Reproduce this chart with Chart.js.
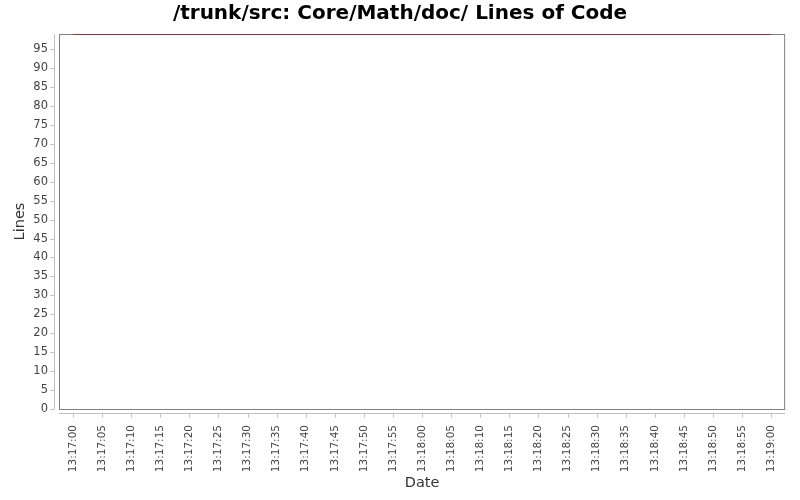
<!DOCTYPE html>
<html>
<head>
<meta charset="utf-8">
<script src="https://cdn.jsdelivr.net/npm/chart.js@4/dist/chart.umd.min.js"></script>
<style>
  html, body { margin: 0; padding: 0; background: #fff; }
  #wrap { width: 800px; height: 500px; }
</style>
</head>
<body>
<div id="wrap"><canvas id="locChart" width="800" height="500"></canvas></div>
<script>
// 数据: 采样时间 + 代码行数
const dates = ["13:17:00", "13:19:00"];
const lines = [99, 99];
const tickLabels = [
  "13:17:00", "13:17:05", "13:17:10", "13:17:15", "13:17:20", "13:17:25",
  "13:17:30", "13:17:35", "13:17:40", "13:17:45", "13:17:50", "13:17:55",
  "13:18:00", "13:18:05", "13:18:10", "13:18:15", "13:18:20", "13:18:25",
  "13:18:30", "13:18:35", "13:18:40", "13:18:45", "13:18:50", "13:18:55",
  "13:19:00"
];
const yMax = 99;
const titleText = "/trunk/src: Core/Math/doc/ Lines of Code";

function toSec(s) {
  const p = s.split(":").map(Number);
  return p[0] * 3600 + p[1] * 60 + p[2];
}
function fmt(sec) {
  const h = Math.floor(sec / 3600), m = Math.floor(sec / 60) % 60, s = Math.round(sec % 60);
  return [h, m, s].map(v => String(v).padStart(2, "0")).join(":");
}

const points = dates.map((d, i) => ({ x: toSec(d), y: lines[i] }));
const xTicks = tickLabels.map(toSec);
const span = points[points.length - 1].x - points[0].x;
const xMin = points[0].x - span * 0.02, xMax = points[points.length - 1].x + span * 0.02;

// JFreeChart 风格: 偏移的坐标轴 + 灰色边框
const axisPlugin = {
  id: "axisPlugin",
  beforeDatasetsDraw(c) {
    const ctx = c.ctx, a = c.chartArea;
    const xs = c.scales.x, ys = c.scales.y;
    ctx.save();
    ctx.strokeStyle = "#808080";
    ctx.lineWidth = 1;
    ctx.strokeRect(a.left + 0.5, a.top + 0.5, a.right - a.left - 1, a.bottom - a.top);
    ctx.strokeStyle = "#c0c0c0";
    ctx.beginPath();
    // y 轴
    const ax = a.left - 4.5;
    ctx.moveTo(ax, a.top); ctx.lineTo(ax, a.bottom);
    ys.ticks.forEach(t => {
      const y = Math.round(ys.getPixelForValue(t.value)) + 0.5;
      ctx.moveTo(ax - 4, y); ctx.lineTo(ax, y);
    });
    // x 轴
    const ay = a.bottom + 4.5;
    ctx.moveTo(a.left, ay); ctx.lineTo(a.right, ay);
    xs.ticks.forEach(t => {
      const x = Math.round(xs.getPixelForValue(t.value)) + 0.5;
      ctx.moveTo(x, ay); ctx.lineTo(x, ay + 4);
    });
    ctx.stroke();
    ctx.restore();
  }
};

new Chart(document.getElementById("locChart").getContext("2d"), {
  type: "line",
  data: {
    datasets: [{
      label: "Lines",
      data: points,
      borderColor: "#993333",
      borderWidth: 2,
      pointRadius: 0,
      fill: false,
      tension: 0
    }]
  },
  options: {
    responsive: false,
    animation: false,
    layout: { padding: { left: 12, right: 12, top: 0, bottom: 0 } },
    plugins: {
      legend: { display: false },
      tooltip: { enabled: false },
      title: {
        display: true,
        text: titleText,
        color: "#000",
        font: { family: "DejaVu Sans", size: 20, weight: "bold" },
        padding: { top: 2, bottom: 8 }
      }
    },
    scales: {
      x: {
        type: "linear",
        min: xMin,
        max: xMax,
        afterBuildTicks: s => { s.ticks = xTicks.map(v => ({ value: v })); },
        afterFit: s => { s.height = 91; },
        grid: { display: false, drawTicks: false },
        border: { display: false },
        ticks: {
          autoSkip: false,
          minRotation: 90,
          maxRotation: 90,
          padding: 16,
          color: "#444",
          font: { family: "DejaVu Sans", size: 10.5 },
          callback: v => fmt(v)
        },
        title: {
          display: true,
          text: "Date",
          color: "#333",
          font: { family: "DejaVu Sans", size: 14.5 },
          padding: { top: 0, bottom: 8 }
        }
      },
      y: {
        min: 0,
        max: yMax,
        afterBuildTicks: s => { s.ticks = s.ticks.filter(t => t.value % 5 === 0); },
        afterFit: s => { s.width = 47; },
        grid: { display: false, drawTicks: false },
        border: { display: false },
        ticks: {
          stepSize: 5,
          padding: 11,
          color: "#444",
          font: { family: "DejaVu Sans", size: 11.5 }
        },
        title: {
          display: true,
          text: "Lines",
          color: "#333",
          font: { family: "DejaVu Sans", size: 14.5 },
          padding: { top: 0, bottom: 0 }
        }
      }
    }
  },
  plugins: [axisPlugin]
});
</script>
</body>
</html>
